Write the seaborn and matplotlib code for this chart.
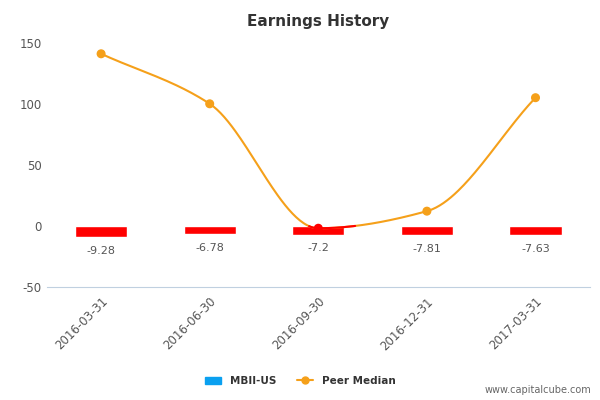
import numpy as np
import matplotlib
matplotlib.use("Agg")
import matplotlib.pyplot as plt
import seaborn as sns
import pandas as pd

dates = ["2016-03-31", "2016-06-30", "2016-09-30", "2016-12-31", "2017-03-31"]
mbii = [-9.28, -6.78, -7.2, -7.81, -7.63]
bar_labels = ["-9.28", "-6.78", "-7.2", "-7.81", "-7.63"]
peer = [141, 100, -2, 12, 105]

sns.set_style("white")
plt.rcParams["axes.unicode_minus"] = False
fig = plt.figure(figsize=(6, 4), dpi=100)
ax = fig.add_axes([0.078, 0.283, 0.905, 0.61])

df = pd.DataFrame({"date": dates, "v": mbii})
sns.barplot(data=df, x="date", y="v", color="#ff0000", width=0.48, ax=ax, saturation=1)
for i, (v, t) in enumerate(zip(mbii, bar_labels)):
    ax.text(i, v - 7, t, ha="center", va="top", fontsize=8, color="#555555")

x = np.arange(len(peer), dtype=float)
y = np.array(peer, dtype=float)
d = np.diff(y)
m = np.zeros_like(y)
for i in range(1, len(y) - 1):
    m[i] = 0 if d[i-1] * d[i] <= 0 else 2 / (1/d[i-1] + 1/d[i])
m[0], m[-1] = d[0], d[-1]
xs, ys = [], []
for i in range(len(y) - 1):
    t = np.linspace(0, 1, 60)
    h00 = 2*t**3 - 3*t**2 + 1; h10 = t**3 - 2*t**2 + t
    h01 = -2*t**3 + 3*t**2; h11 = t**3 - t**2
    xs.extend(i + t); ys.extend(h00*y[i] + h10*m[i] + h01*y[i+1] + h11*m[i+1])
xs, ys = np.array(xs), np.array(ys)
ax.plot(xs, ys, color="#f5a01a", lw=1.5)
neg = np.where(ys < 0, ys, np.nan)
ax.plot(xs, neg, color="#ff0000", lw=1.5)
cols = ["#f5a01a" if v >= 0 else "#ff0000" for v in peer]
ax.scatter(x, y, color=cols, s=30, zorder=5)

ax.set_xlim(-0.5, 4.5)
ax.set_ylim(-50, 150)
ax.set_yticks([-50, 0, 50, 100, 150])
ax.grid(False)
ax.set_xlabel(""); ax.set_ylabel("")
for s in ["top", "right", "left"]:
    ax.spines[s].set_visible(False)
ax.spines["bottom"].set_color("#c0d0e0")
ax.set_xticks(np.arange(-0.5, 5, 1), minor=True)
ax.tick_params(axis="x", which="minor", length=8, color="#c0d0e0")
ax.tick_params(axis="x", which="major", length=0, labelsize=8.5, labelcolor="#555555", pad=6)
ax.tick_params(axis="y", length=0, labelsize=8.5, labelcolor="#555555")
plt.setp(ax.get_xticklabels(), rotation=45, ha="right", rotation_mode="anchor")
ax.set_title("Earnings History", fontsize=11, color="#333333", pad=12, fontweight="semibold")

from matplotlib.patches import Patch
from matplotlib.lines import Line2D
h = [Patch(color="#0aa0f0", label="MBII-US"),
     Line2D([0], [0], color="#f5a01a", marker="o", ms=5, label="Peer Median")]
leg = fig.legend(handles=h, loc="center", bbox_to_anchor=(0.5, 0.048), ncol=2, frameon=False,
                 prop={"size": 7.5, "weight": "bold"}, handlelength=1.6, columnspacing=2)
for t in leg.get_texts():
    t.set_color("#333333")
fig.text(0.985, 0.018, "www.capitalcube.com", ha="right", fontsize=7, color="#666666")
fig.savefig("out.png", dpi=100)
